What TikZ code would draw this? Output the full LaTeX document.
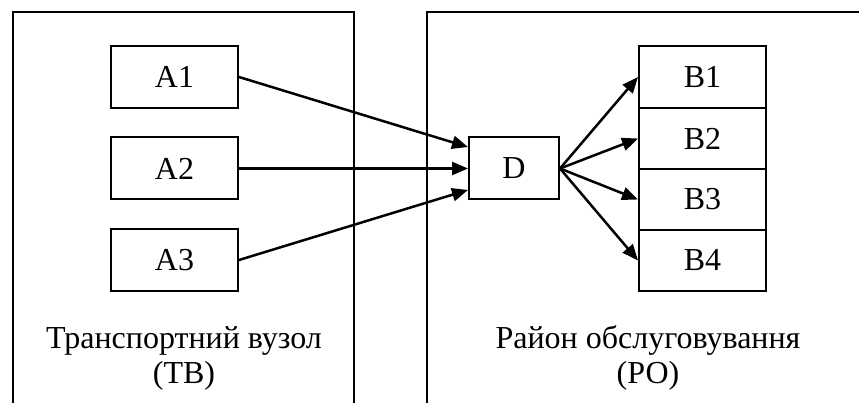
\documentclass[tikz,border=0pt]{standalone}
\usepackage{fontspec}
\setmainfont{Liberation Serif}
\usetikzlibrary{arrows.meta}
\begin{document}
\begin{tikzpicture}[x=1pt,y=-1pt,
  frame/.style={line width=2pt},
  box/.style={draw,line width=2pt,rectangle,inner sep=0pt,font=\fontsize{32}{36}\selectfont},
  arr/.style={line width=2.5pt,-{Triangle[length=16pt,width=13pt]}},
  lab/.style={anchor=base,inner sep=0pt,font=\fontsize{32}{36}\selectfont}]
\useasboundingbox (0,0) rectangle (859,403);
\draw[frame] (12.5,403) -- (12.5,12) -- (353.5,12) -- (353.5,403);
\draw[frame] (427,403) -- (427,12) -- (859,12);
\node[box,minimum width=127pt,minimum height=62pt] (A1) at (174.5,77) {A1};
\node[box,minimum width=127pt,minimum height=62pt] (A2) at (174.5,168.5) {A2};
\node[box,minimum width=127pt,minimum height=62pt] (A3) at (174.5,260) {A3};
\node[box,minimum width=90pt,minimum height=62pt] (D) at (514,168.5) {D};
\node[box,minimum width=127pt,minimum height=62pt] (B1) at (702.5,77) {B1};
\node[box,minimum width=127pt,minimum height=61pt] (B2) at (702.5,138.5) {B2};
\node[box,minimum width=127pt,minimum height=61pt] (B3) at (702.5,199.5) {B3};
\node[box,minimum width=127pt,minimum height=61pt] (B4) at (702.5,260.5) {B4};
\draw[arr] (A1.east) -- (D.155);
\draw[arr] (A2.east) -- (D.west);
\draw[arr] (A3.east) -- (D.205);
\draw[arr] (D.east) -- (B1.west);
\draw[arr] (D.east) -- (B2.west);
\draw[arr] (D.east) -- (B3.west);
\draw[arr] (D.east) -- (B4.west);
\node[lab] (t1) at (184,348) {Транспортний вузол};
\node[lab] (t2) at (184,383) {(ТВ)};
\node[lab] (t3) at (648,348) {Район обслуговування};
\node[lab] (t4) at (648,383) {(РО)};
\end{tikzpicture}
\end{document}
